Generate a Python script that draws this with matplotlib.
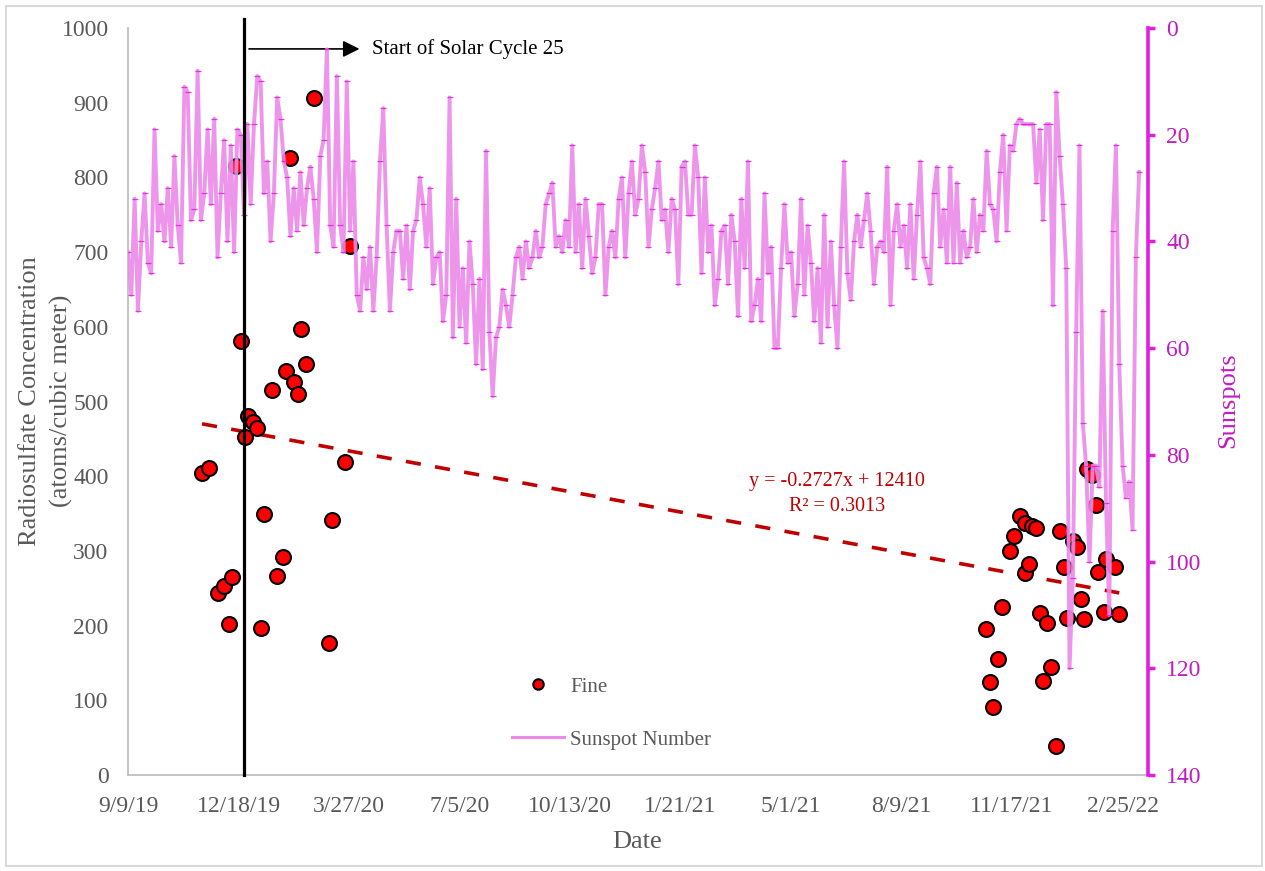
import matplotlib
matplotlib.use('Agg')
import matplotlib.pyplot as plt
import matplotlib.dates as mdates
from matplotlib.lines import Line2D
from matplotlib.patches import Rectangle
import numpy as np
import pandas as pd

plt.rcParams['font.family'] = ['Liberation Serif', 'DejaVu Serif']

# radiosulfate (fine fraction) sample dates and concentrations
fine_dates = [
    '2019-11-15', '2019-11-21', '2019-11-29', '2019-12-05', '2019-12-09',
    '2019-12-12', '2019-12-16', '2019-12-20', '2019-12-24', '2019-12-27',
    '2019-12-31', '2020-01-04', '2020-01-07', '2020-01-10', '2020-01-17',
    '2020-01-22', '2020-01-27', '2020-01-30', '2020-02-03', '2020-02-06',
    '2020-02-10', '2020-02-13', '2020-02-17', '2020-02-24', '2020-03-09',
    '2020-03-12', '2020-03-23', '2020-03-28',
    '2021-10-24', '2021-10-28', '2021-10-31', '2021-11-04', '2021-11-08',
    '2021-11-15', '2021-11-19', '2021-11-24', '2021-11-29', '2021-11-29',
    '2021-12-02', '2021-12-05', '2021-12-09', '2021-12-12', '2021-12-15',
    '2021-12-19', '2021-12-22', '2021-12-27', '2021-12-30', '2022-01-03',
    '2022-01-06', '2022-01-11', '2022-01-15', '2022-01-18', '2022-01-21',
    '2022-01-24', '2022-01-28', '2022-02-01', '2022-02-03', '2022-02-08',
    '2022-02-10', '2022-02-18', '2022-02-22',
]
fine_values = [
    404, 411, 244, 253, 202,
    265, 815, 581, 453, 480,
    472, 465, 197, 349, 516,
    266, 292, 541, 826, 526,
    510, 597, 550, 906, 177,
    342, 419, 708,
    195, 125, 91, 155, 225,
    300, 320, 347, 338, 270,
    282, 333, 330, 217, 126,
    204, 144, 39, 327, 278,
    210, 313, 305, 235, 209,
    409, 401, 361, 272, 218,
    289, 278, 215,
]

# daily sunspot number, every third day from 9/9/19
sunspot_start = '2019-09-09'
sunspots = [
    42, 50, 32, 53, 40, 31, 44, 46, 19, 38,
    33, 40, 30, 41, 24, 37, 44, 11, 12, 36,
    34, 8, 36, 31, 19, 33, 17, 43, 31, 21,
    40, 22, 42, 19, 20, 35, 18, 33, 18, 9,
    10, 31, 25, 40, 31, 13, 17, 25, 28, 39,
    30, 38, 27, 37, 30, 26, 32, 42, 24, 21,
    4, 37, 41, 9, 37, 42, 10, 38, 25, 50,
    53, 43, 49, 41, 53, 43, 25, 15, 37, 53,
    42, 38, 38, 47, 37, 49, 38, 36,
    28, 33, 41, 30, 48, 43, 42, 55, 50, 13,
    58, 32, 56, 45, 59, 40, 48, 63, 47, 64,
    23, 57, 69, 58, 56, 49, 52, 56, 50, 43,
    41, 47, 40, 45, 43, 38, 43, 41, 33, 31,
    29, 41, 39, 42, 36, 41, 22, 42, 33, 45,
    32, 39, 46, 43, 33, 33, 50, 41, 38, 43,
    32, 28, 43, 31, 25, 35, 32, 22, 27, 41,
    34, 30, 25, 36, 34, 42, 32, 34, 48, 26,
    25, 35, 35, 22,
    28, 46, 28, 42, 37, 52, 47, 38, 37, 48,
    35, 40, 54, 32, 45, 25, 55, 52, 47, 55,
    31, 46, 41, 60, 60, 45, 33, 44, 42, 54,
    48, 32, 50, 37, 44, 55, 45, 59, 35, 56,
    40, 52, 60, 41, 25, 46, 51, 40, 35, 41,
    36, 31, 38, 48, 41, 40, 42, 26, 52, 38,
    33, 41, 37, 45, 33, 47, 35, 25, 43, 45,
    48, 31, 26, 41, 34, 44, 26, 44, 29, 44,
    38, 43, 41, 32, 42, 35, 38, 23,
    33, 34, 40, 27, 20, 38, 22, 23, 18, 17,
    18, 18, 18, 18, 29, 19, 36, 18, 18, 52,
    12, 24, 33, 45, 120, 103, 57, 22, 74, 82,
    100, 82, 82, 86, 53, 89, 110, 38, 22, 63,
    82, 88, 85, 94, 43, 27,
]

tick_dates = ['2019-09-09', '2019-12-18', '2020-03-27', '2020-07-05', '2020-10-13',
              '2021-01-21', '2021-05-01', '2021-08-09', '2021-11-17', '2022-02-25']
tick_labels = ['9/9/19', '12/18/19', '3/27/20', '7/5/20', '10/13/20',
               '1/21/21', '5/1/21', '8/9/21', '11/17/21', '2/25/22']

# linear trendline from the spreadsheet (x = Excel serial date)
trend_slope = -0.2727
trend_intercept = 12410
trend_r2 = 0.3013

cycle_start = '2019-12-23'

GRAY = '#595959'
MAGENTA = '#e31ee0'
MAGENTA_TXT = '#c21bc2'
PINK = '#ec8ae9'

fine_dates = pd.to_datetime(fine_dates)
sun_dates = pd.date_range(sunspot_start, periods=len(sunspots), freq='3D')

fig = plt.figure(figsize=(12.65, 8.71), dpi=100)
ax1 = fig.add_axes([128 / 1265, 1 - 775 / 871, 1020 / 1265, 747 / 871])
ax2 = ax1.twinx()

# chart border
fig.patches.append(Rectangle((6 / 1265, 1 - 866 / 871), 1256 / 1265, 860 / 871,
                             transform=fig.transFigure, fill=False,
                             edgecolor='#d9d9d9', lw=1.5))

# trendline through the fine samples
tx = np.array([fine_dates.min(), fine_dates.max()])
serial = mdates.date2num(tx) + 25569
ty = trend_slope * serial + trend_intercept
ax1.plot(tx, ty, color='#c00000', lw=2.6, dashes=(4.2, 4.0), zorder=2)

ax1.scatter(fine_dates, fine_values, s=115, color='red', edgecolors='black',
            linewidths=1.5, zorder=3)

ax1.set_ylim(0, 1000)
ax1.set_yticks(np.arange(0, 1001, 100))
ax1.set_xlim(pd.Timestamp('2019-09-09'), pd.Timestamp('2022-03-20'))
ax1.set_xticks(pd.to_datetime(tick_dates))
ax1.set_xticklabels(tick_labels)
ax1.tick_params(axis='both', length=0, labelsize=17, labelcolor=GRAY)
ax1.tick_params(axis='y', pad=14)
ax1.tick_params(axis='x', pad=15)
for s in ['top', 'right']:
    ax1.spines[s].set_visible(False)
for s in ['left', 'bottom']:
    ax1.spines[s].set_color('#bfbfbf')
    ax1.spines[s].set_linewidth(1.3)

# sunspot number on the inverted secondary axis
ax2.plot(sun_dates, sunspots, color=PINK, lw=2.8, alpha=0.9, zorder=2)
ax2.plot(sun_dates, sunspots, ls='none', marker='_', ms=4, mew=0.9,
         color=MAGENTA, alpha=0.85, zorder=2)
ax2.set_ylim(140, 0)
ax2.set_yticks(np.arange(0, 141, 20))
ax2.tick_params(axis='y', direction='out', length=5, width=2.5, color=MAGENTA,
                labelsize=17, labelcolor=MAGENTA_TXT, pad=8)
for s in ['top', 'left', 'bottom']:
    ax2.spines[s].set_visible(False)
ax2.spines['right'].set_color(MAGENTA)
ax2.spines['right'].set_linewidth(2.6)

# start of solar cycle 25
ax2.plot([pd.Timestamp(cycle_start)] * 2, [0, 1.012], color='black', lw=2.3,
         transform=ax2.get_xaxis_transform(), clip_on=False, zorder=4)
ax1.annotate('', xy=(pd.Timestamp('2020-04-08'), 972),
             xytext=(pd.Timestamp('2019-12-25'), 972),
             arrowprops=dict(arrowstyle='-|>', color='black', lw=1.2,
                             mutation_scale=25), annotation_clip=False)
ax1.text(pd.Timestamp('2020-04-17'), 972, 'Start of Solar Cycle 25', fontsize=15,
         color='black', va='center', ha='left')

ax1.text(0.695, 0.376, 'y = -0.2727x + 12410\nR² = %.4f' % trend_r2,
         transform=ax1.transAxes, color='#c00000', fontsize=14.5,
         ha='center', va='center', multialignment='center', linespacing=1.45)

fig.text(30 / 1265, 1 - 401 / 871, 'Radiosulfate Concentration', rotation=90,
         ha='center', va='center', fontsize=19, color=GRAY)
fig.text(61 / 1265, 1 - 401 / 871, '(atoms/cubic meter)', rotation=90,
         ha='center', va='center', fontsize=19, color=GRAY)
fig.text(637 / 1265, 1 - 842 / 871, 'Date', ha='center', va='center',
         fontsize=19, color=GRAY)
fig.text(1228 / 1265, 1 - 400 / 871, 'Sunspots', rotation=90, ha='center',
         va='center', fontsize=19, color=MAGENTA_TXT)

handles = [
    Line2D([], [], ls='none', marker='o', ms=7.5, mfc='red', mec='black', mew=1.5),
    Line2D([], [], color=PINK, lw=2.2),
]
fig.legend(handles, ['Fine', 'Sunspot Number'], loc='upper left',
           bbox_to_anchor=(512 / 1265, 1 - 677 / 871), frameon=False,
           fontsize=15, labelcolor=GRAY, handlelength=2.5, handletextpad=0.3,
           labelspacing=1.6, borderpad=0, borderaxespad=0)

fig.savefig('out.png', dpi=100)
